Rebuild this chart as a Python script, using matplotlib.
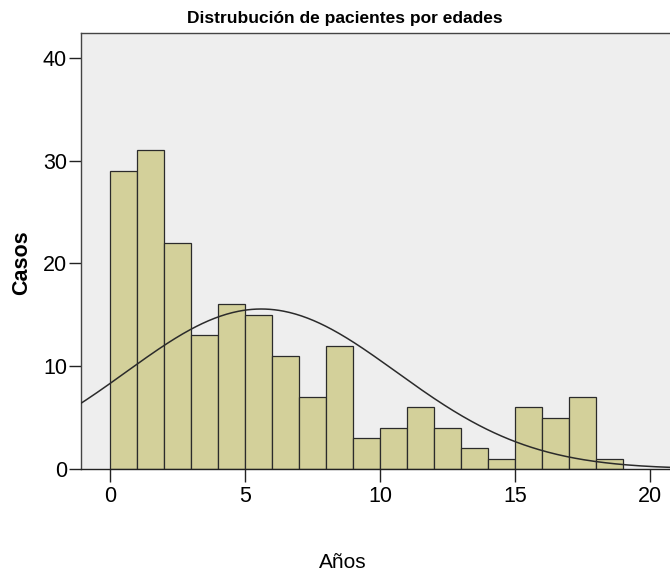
import numpy as np
import matplotlib
matplotlib.use("Agg")
import matplotlib.pyplot as plt

plt.rcParams['font.family'] = ['Liberation Sans', 'DejaVu Sans']

# Data
bin_edges = list(range(0, 20))          # 1-year bins from 0 to 19
counts = [29, 31, 22, 13, 16, 15, 11, 7, 12, 3, 4, 6, 4, 2, 1, 6, 5, 7, 1]
xticks = [0, 5, 10, 15, 20]
yticks = [0, 10, 20, 30, 40]
fit_mean = 5.6
fit_sd = 5.0

title = "Distrubución de pacientes por edades"
xlabel = "Años"
ylabel = "Casos"

fig = plt.figure(figsize=(6.70, 5.74), dpi=100)
ax = fig.add_axes([81/670, 1 - 469/574, 591/670, (469 - 33)/574])
ax.set_facecolor('#EEEEEE')

edges = np.array(bin_edges, dtype=float)
ax.bar(edges[:-1], counts, width=np.diff(edges), align='edge',
       color='#D3D09A', edgecolor='#2b2b2b', linewidth=0.9, zorder=2)

n = sum(counts)
bw = 1.0
xs = np.linspace(-1.2, 21, 400)
ys = n * bw / (fit_sd * np.sqrt(2 * np.pi)) * np.exp(-0.5 * ((xs - fit_mean) / fit_sd) ** 2)
ax.plot(xs, ys, color='#2b2b2b', linewidth=1.1, zorder=3)

ax.set_xlim(-1.07, 20.8)
ax.set_ylim(0, 42.4)
ax.set_xticks(xticks)
ax.set_yticks(yticks)
ax.tick_params(axis='x', direction='out', length=9, width=1, colors='#222222', labelsize=15.5, pad=3)
ax.tick_params(axis='y', direction='out', length=9, width=1, colors='#222222', labelsize=15.5, pad=1)
for lab in ax.get_xticklabels() + ax.get_yticklabels():
    lab.set_color('black')

for s in ['left', 'top', 'bottom']:
    ax.spines[s].set_color('#444444')
    ax.spines[s].set_linewidth(1.0)
ax.spines['right'].set_visible(False)
ax.spines['bottom'].set_color('#222222')
ax.spines['bottom'].set_zorder(4)

fig.text(345/670, 1 - 19/574, title, ha='center', va='center', fontsize=12.5, fontweight='bold')
fig.text(343/670, 1 - 562/574, xlabel, ha='center', va='center', fontsize=15)
fig.text(22/670, 1 - 263/574, ylabel, ha='center', va='center', fontsize=15.5,
         fontweight='bold', rotation=90)

fig.savefig('out.png', dpi=100)
